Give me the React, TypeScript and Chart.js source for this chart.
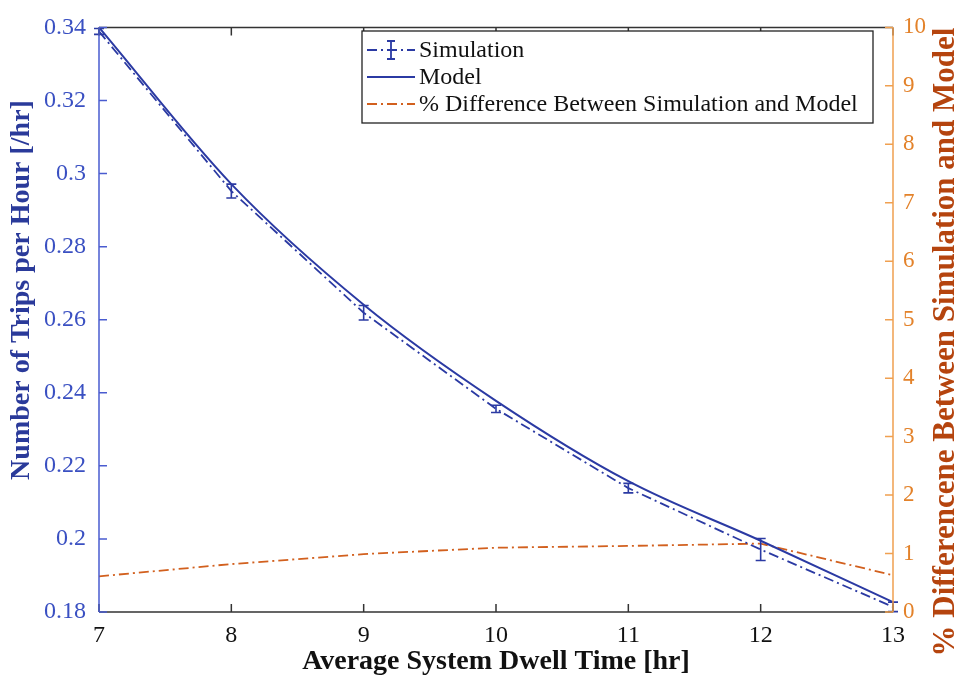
import React, { useEffect, useRef } from 'react';
import { Chart, registerables } from 'chart.js';

Chart.register(...registerables);

const dwellTimes = [7, 8, 9, 10, 11, 12, 13];
const simulation = [0.3389, 0.2952, 0.2619, 0.2356, 0.2139, 0.1971, 0.1814];
const simulationErr = [0.0008, 0.0019, 0.002, 0.001, 0.0013, 0.003, 0.0013];
const model = [0.34, 0.2971, 0.2641, 0.2378, 0.2158, 0.1995, 0.1827];
const pctDifference = [0.61, 0.82, 0.99, 1.1, 1.13, 1.17, 0.63];
const xTicks = [7, 8, 9, 10, 11, 12, 13];
const leftTicks = [0.18, 0.2, 0.22, 0.24, 0.26, 0.28, 0.3, 0.32, 0.34];
const rightTicks = [0, 1, 2, 3, 4, 5, 6, 7, 8, 9, 10];

const xTitle = 'Average System Dwell Time [hr]';
const leftTitle = 'Number of Trips per Hour [/hr]';
const rightTitle = '% Differencene Between Simulation and Model';
const seriesLabels = ['Simulation', 'Model', '% Difference Between Simulation and Model'];

const SERIF = '"Liberation Serif", "Times New Roman", serif';
const BLUE = '#2b3aa3';
const BLUE_TEXT = '#3a50c2';
const BLUE_TITLE = '#2a3a9a';
const ORANGE = '#d2601e';
const ORANGE_AXIS = '#f0a050';
const ORANGE_TEXT = '#e3822a';
const ORANGE_TITLE = '#b5440e';
const DASHDOT = [10, 4, 2, 4];

const decorPlugin = {
  id: 'decor',
  afterDatasetsDraw(chart: any) {
    const { ctx, chartArea: a, scales } = chart;
    const xs = scales.x, yl = scales.y, yr = scales.y1;
    ctx.save();
    // error bars
    ctx.strokeStyle = BLUE;
    ctx.lineWidth = 1.6;
    ctx.setLineDash([]);
    dwellTimes.forEach((t, i) => {
      const px = xs.getPixelForValue(t);
      const top = yl.getPixelForValue(simulation[i] + simulationErr[i]);
      const bot = yl.getPixelForValue(simulation[i] - simulationErr[i]);
      ctx.beginPath();
      ctx.moveTo(px, top); ctx.lineTo(px, bot);
      ctx.moveTo(px - 5, top); ctx.lineTo(px + 5, top);
      ctx.moveTo(px - 5, bot); ctx.lineTo(px + 5, bot);
      ctx.stroke();
    });
    // box lines
    ctx.lineWidth = 1.5;
    ctx.strokeStyle = '#333';
    ctx.beginPath();
    ctx.moveTo(a.left, a.top); ctx.lineTo(a.right, a.top);
    ctx.moveTo(a.left, a.bottom); ctx.lineTo(a.right, a.bottom);
    xTicks.forEach((t) => {
      const px = xs.getPixelForValue(t);
      ctx.moveTo(px, a.bottom); ctx.lineTo(px, a.bottom - 8);
      ctx.moveTo(px, a.top); ctx.lineTo(px, a.top + 8);
    });
    ctx.stroke();
    ctx.strokeStyle = '#4a5cd0';
    ctx.beginPath();
    ctx.moveTo(a.left, a.top); ctx.lineTo(a.left, a.bottom);
    leftTicks.forEach((v) => {
      const py = yl.getPixelForValue(v);
      ctx.moveTo(a.left, py); ctx.lineTo(a.left + 8, py);
    });
    ctx.stroke();
    ctx.strokeStyle = ORANGE_AXIS;
    ctx.beginPath();
    ctx.moveTo(a.right, a.top); ctx.lineTo(a.right, a.bottom);
    rightTicks.forEach((v) => {
      const py = yr.getPixelForValue(v);
      ctx.moveTo(a.right, py); ctx.lineTo(a.right - 8, py);
    });
    ctx.stroke();
    ctx.restore();
  },
  afterDraw(chart: any) {
    const { ctx } = chart;
    // left axis title
    ctx.save();
    ctx.translate(22, 290);
    ctx.rotate(-Math.PI / 2);
    ctx.fillStyle = BLUE_TITLE;
    ctx.font = `bold 28px ${SERIF}`;
    ctx.textAlign = 'center';
    ctx.textBaseline = 'middle';
    ctx.fillText(leftTitle, 0, 0);
    ctx.restore();

    // right axis title (reads bottom to top)
    ctx.save();
    ctx.translate(946, 342);
    ctx.rotate(-Math.PI / 2);
    ctx.fillStyle = ORANGE_TITLE;
    ctx.font = `bold 31px ${SERIF}`;
    ctx.textAlign = 'center';
    ctx.textBaseline = 'middle';
    ctx.fillText(rightTitle, 0, 0);
    ctx.restore();

    // legend
    ctx.save();
    const bx = 362, by = 31, bw = 511, bh = 92;
    ctx.fillStyle = '#fff';
    ctx.fillRect(bx, by, bw, bh);
    ctx.strokeStyle = '#222';
    ctx.lineWidth = 1.3;
    ctx.strokeRect(bx, by, bw, bh);
    const rows = [50, 77, 104];
    const x0 = bx + 5, x1 = bx + 53;
    ctx.lineWidth = 1.8;
    ctx.strokeStyle = BLUE;
    ctx.setLineDash(DASHDOT);
    ctx.beginPath(); ctx.moveTo(x0, rows[0]); ctx.lineTo(x1, rows[0]); ctx.stroke();
    ctx.setLineDash([]);
    const mx = (x0 + x1) / 2;
    ctx.beginPath();
    ctx.moveTo(mx, rows[0] - 9); ctx.lineTo(mx, rows[0] + 9);
    ctx.moveTo(mx - 4, rows[0] - 9); ctx.lineTo(mx + 4, rows[0] - 9);
    ctx.moveTo(mx - 4, rows[0] + 9); ctx.lineTo(mx + 4, rows[0] + 9);
    ctx.stroke();
    ctx.beginPath(); ctx.moveTo(x0, rows[1]); ctx.lineTo(x1, rows[1]); ctx.stroke();
    ctx.strokeStyle = ORANGE;
    ctx.setLineDash(DASHDOT);
    ctx.beginPath(); ctx.moveTo(x0, rows[2]); ctx.lineTo(x1, rows[2]); ctx.stroke();
    ctx.setLineDash([]);
    ctx.fillStyle = '#111';
    ctx.font = `24px ${SERIF}`;
    ctx.textAlign = 'left';
    ctx.textBaseline = 'middle';
    seriesLabels.forEach((s, i) => ctx.fillText(s, x1 + 4, rows[i] + 1));
    ctx.restore();
  },
};

export default function App() {
  const ref = useRef<HTMLCanvasElement | null>(null);
  useEffect(() => {
    if (!ref.current) return;
    const chart = new Chart(ref.current, {
      type: 'line',
      data: {
        datasets: [
          {
            label: seriesLabels[0],
            data: dwellTimes.map((t, i) => ({ x: t, y: simulation[i] })),
            borderColor: BLUE,
            borderWidth: 1.8,
            borderDash: DASHDOT,
            pointRadius: 0,
            yAxisID: 'y',
            clip: false as any,
          },
          {
            label: seriesLabels[1],
            data: dwellTimes.map((t, i) => ({ x: t, y: model[i] })),
            borderColor: BLUE,
            borderWidth: 2,
            pointRadius: 0,
            cubicInterpolationMode: 'monotone',
            yAxisID: 'y',
            clip: false as any,
          },
          {
            label: seriesLabels[2],
            data: dwellTimes.map((t, i) => ({ x: t, y: pctDifference[i] })),
            borderColor: ORANGE,
            borderWidth: 1.8,
            borderDash: DASHDOT,
            pointRadius: 0,
            yAxisID: 'y1',
            clip: false as any,
          },
        ],
      },
      options: {
        responsive: false,
        animation: false,
        layout: { padding: { top: 20, left: 0, right: 0, bottom: 0 } },
        plugins: { legend: { display: false }, tooltip: { enabled: false } },
        scales: {
          x: {
            type: 'linear',
            min: 7,
            max: 13,
            afterBuildTicks: (s: any) => { s.ticks = xTicks.map((v) => ({ value: v })); },
            afterFit: (s: any) => { s.height = 71; },
            grid: { display: false, drawTicks: false },
            border: { display: false },
            ticks: { color: '#111', font: { family: SERIF, size: 24 }, padding: 9, maxRotation: 0 },
            title: {
              display: true,
              text: xTitle,
              color: '#111',
              font: { family: SERIF, size: 28, weight: 'bold' },
              padding: { top: 0, bottom: 4 },
            },
          },
          y: {
            type: 'linear',
            position: 'left',
            min: 0.18,
            max: 0.34,
            afterBuildTicks: (s: any) => { s.ticks = leftTicks.map((v) => ({ value: v })); },
            afterFit: (s: any) => { s.width = 99; },
            grid: { display: false, drawTicks: false },
            border: { display: false },
            ticks: { color: BLUE_TEXT, font: { family: SERIF, size: 24 }, padding: 13, callback: (v: any) => String(Number(Number(v).toFixed(2))) },
            title: { display: false, text: leftTitle },
          },
          y1: {
            type: 'linear',
            position: 'right',
            min: 0,
            max: 10,
            afterBuildTicks: (s: any) => { s.ticks = rightTicks.map((v) => ({ value: v })); },
            afterFit: (s: any) => { s.width = 68; },
            grid: { display: false, drawTicks: false },
            border: { display: false },
            ticks: { color: ORANGE_TEXT, font: { family: SERIF, size: 23 }, padding: 10 },
            title: { display: false, text: rightTitle },
          },
        },
      },
      plugins: [decorPlugin],
    } as any);
    return () => chart.destroy();
  }, []);
  return (
    <div style={{ position: 'fixed', left: 0, top: 0, width: 961, height: 683, background: '#fff' }}>
      <canvas ref={ref} width={961} height={683} style={{ display: 'block' }} />
    </div>
  );
}
